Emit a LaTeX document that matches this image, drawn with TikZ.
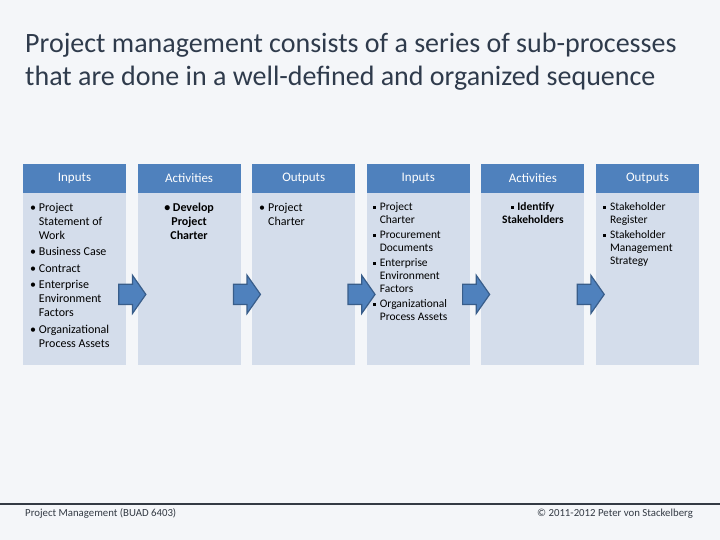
\documentclass[tikz,border=0pt]{standalone}
\usepackage{fontspec}
\setmainfont{Carlito}
\usetikzlibrary{positioning,shapes.arrows,calc}
\definecolor{slidebg}{HTML}{F4F6F9}
\definecolor{hdfill}{HTML}{4F81BD}
\definecolor{bodyfill}{HTML}{D4DDEB}
\definecolor{arrline}{HTML}{385D8A}
\definecolor{titletext}{HTML}{2F3B4C}
\definecolor{foottext}{HTML}{333A44}
\newcommand{\sqbul}{\raisebox{0.35ex}{\rule{3pt}{3pt}}}

\begin{document}
\begin{tikzpicture}[
    node distance=0pt and 11.2pt,
    hd/.style={fill=hdfill, text=white, minimum width=103pt, minimum height=29pt,
               inner sep=0pt, font=\fontsize{13}{14}\selectfont},
    bodybox/.style={fill=bodyfill, minimum width=103pt, minimum height=172pt, inner sep=0pt},
    items/.style={inner sep=0pt, text=black, font=\fontsize{12}{14}\selectfont},
    smallitems/.style={inner sep=0pt, text=black, font=\fontsize{11.5}{13}\selectfont},
    blockarr/.style={single arrow, draw=arrline, fill=hdfill, line width=1.2pt,
                     minimum height=27pt, single arrow head extend=9pt,
                     single arrow tip angle=110, inner sep=0pt},
    foot/.style={inner sep=0pt, text=foottext, font=\fontsize{10.8}{12}\selectfont}
  ]
  \fill[slidebg] (0,0) rectangle (720pt,-540pt);
  \useasboundingbox (0,0) rectangle (720pt,-540pt);

  % title
  \node[anchor=north west, align=left, inner sep=0pt, text=titletext,
        font=\fontsize{28}{33}\selectfont] (title) at (25pt,-33pt)
    {Project management consists of a series of sub-processes\\
     that are done in a well-defined and organized sequence};

  % column headers
  \node[hd] (h1) at (74.5pt,-178.5pt) {Inputs};
  \node[hd, right=of h1] (h2) {Activities};
  \node[hd, right=of h2] (h3) {Outputs};
  \node[hd, right=of h3] (h4) {Inputs};
  \node[hd, right=of h4] (h5) {Activities};
  \node[hd, right=of h5] (h6) {Outputs};

  % column bodies
  \foreach \i in {1,...,6}
    \node[bodybox, below=of h\i] (b\i) {};

  % block arrows between columns
  \foreach \i/\j in {1/2,2/3,3/4,4/5,5/6}
    \node[blockarr] (a\i) at ($(b\i.east)!0.5!(b\j.west)+(-3pt,-15pt)$) {\rule{0pt}{19pt}};

  % body texts
  \node[items, anchor=north west] (t1) at ($(b1.north west)+(7pt,-8pt)$)
    {\begin{tabular}{@{}l@{\hspace{3pt}}l@{}}
       • & Project\\ & Statement of\\ & Work\\[2.5pt]
       • & Business Case\\[2.5pt]
       • & Contract\\[2.5pt]
       • & Enterprise\\ & Environment\\ & Factors\\[2.5pt]
       • & Organizational\\ & Process Assets
     \end{tabular}};
  \node[items, anchor=north] (t2) at ($(b2.north)+(0,-8pt)$)
    {\begin{tabular}{@{}c@{}}
       \textbf{• Develop}\\ \textbf{Project}\\ \textbf{Charter}
     \end{tabular}};
  \node[items, anchor=north west] (t3) at ($(b3.north west)+(7pt,-8pt)$)
    {\begin{tabular}{@{}l@{\hspace{3pt}}l@{}}
       • & Project\\ & Charter
     \end{tabular}};
  \node[smallitems, anchor=north west] (t4) at ($(b4.north west)+(6pt,-8pt)$)
    {\begin{tabular}{@{}l@{\hspace{4pt}}l@{}}
       \sqbul & Project\\ & Charter\\[2pt]
       \sqbul & Procurement\\ & Documents\\[2pt]
       \sqbul & Enterprise\\ & Environment\\ & Factors\\[2pt]
       \sqbul & Organizational\\ & Process Assets
     \end{tabular}};
  \node[smallitems, anchor=north] (t5) at ($(b5.north)+(0,-8pt)$)
    {\begin{tabular}{@{}c@{}}
       \sqbul\hspace{3pt}\textbf{Identify}\\ \textbf{Stakeholders}
     \end{tabular}};
  \node[smallitems, anchor=north west] (t6) at ($(b6.north west)+(7pt,-8pt)$)
    {\begin{tabular}{@{}l@{\hspace{4pt}}l@{}}
       \sqbul & Stakeholder\\ & Register\\[2pt]
       \sqbul & Stakeholder\\ & Management\\ & Strategy
     \end{tabular}};

  % footer
  \coordinate (fl) at (0,-504pt);
  \coordinate (fr) at (720pt,-504pt);
  \draw[foottext, line width=1.2pt] (fl) -- (fr);
  \node[foot, anchor=base west] (course) at (25pt,-516.5pt) {Project Management (BUAD 6403)};
  \node[foot, anchor=base east] (copy) at (693pt,-516.5pt) {© 2011-2012 Peter von Stackelberg};
\end{tikzpicture}
\end{document}
